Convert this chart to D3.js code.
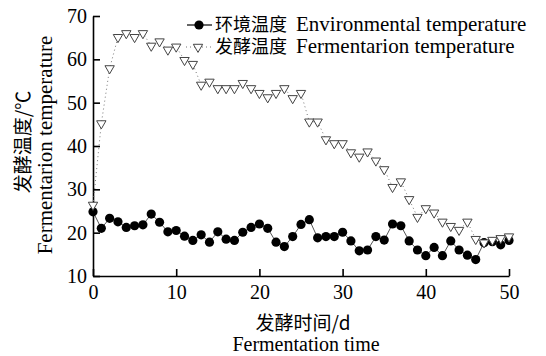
<!DOCTYPE html>
<html>
<head>
<meta charset="utf-8">
<script src="https://cdn.jsdelivr.net/npm/d3@7"></script>
<style>
  body { margin: 0; background: #fff; }
  svg { display: block; }
</style>
</head>
<body>
<div id="chart"></div>
<script>
// fermentation days
var days = d3.range(0, 51);

// environmental temperature (black dots)
var envTemp = [24.8, 21.0, 23.3, 22.5, 21.2, 21.6, 21.8, 24.3, 22.4, 20.2,
               20.5, 19.2, 18.2, 19.5, 17.8, 20.2, 18.5, 18.2, 20.1, 21.2,
               22.0, 21.0, 17.8, 16.8, 19.1, 21.9, 23.0, 18.8, 19.1, 19.1,
               20.1, 18.1, 15.8, 16.0, 19.1, 18.3, 22.0, 21.6, 18.1, 16.0,
               14.7, 16.6, 14.7, 18.1, 16.0, 14.8, 13.8, 17.7, 17.9, 17.2,
               18.2];

// fermentation temperature (open triangles)
var fermTemp = [26.4, 45.2, 57.9, 65.1, 66.0, 65.1, 66.0, 63.1, 64.1, 62.2,
                62.9, 59.8, 58.9, 54.1, 54.8, 53.3, 53.3, 53.3, 54.5, 53.3,
                52.2, 51.2, 52.2, 53.3, 51.0, 52.2, 45.6, 45.6, 41.5, 40.6,
                40.6, 38.5, 37.5, 38.7, 36.6, 34.6, 30.5, 31.8, 27.7, 23.6,
                25.6, 24.6, 22.5, 21.5, 20.6, 22.5, 18.5, 17.7, 18.3, 18.7,
                19.1];

var xTicks = [0, 10, 20, 30, 40, 50];
var yTicks = [10, 20, 30, 40, 50, 60, 70];

var legendLabels = [
  {zh: "环境温度", en: "Environmental temperature"},
  {zh: "发酵温度", en: "Fermentarion temperature"}
];

var SERIF = "Liberation Serif, DejaVu Serif, serif";
var CJK = "Noto Sans CJK SC, sans-serif";

// 0.size
var W = 546, H = 356;
var margin = {top: 16, right: 37, bottom: 80, left: 93};
var plotW = W - margin.left - margin.right;
var plotH = H - margin.top - margin.bottom;

var svg = d3.select("#chart").append("svg").attr("width", W).attr("height", H);
var g = svg.append("g").attr("transform", "translate(" + margin.left + "," + margin.top + ")");

var xScale = d3.scaleLinear().domain([0, 50]).range([0, plotW]);
var yScale = d3.scaleLinear().domain([10, 70]).range([plotH, 0]);

// 1.axes (ticks pointing inward)
var axisX = g.append("g")
  .attr("transform", "translate(0," + plotH + ")")
  .call(d3.axisBottom(xScale).tickValues(xTicks).tickSizeInner(-7).tickSizeOuter(0).tickPadding(9));
var axisY = g.append("g")
  .call(d3.axisLeft(yScale).tickValues(yTicks).tickSizeInner(-7).tickSizeOuter(0).tickPadding(6));

[axisX, axisY].forEach(function (a) {
  a.attr("font-family", null).attr("font-size", null);
  a.select(".domain").attr("stroke", "#000").attr("stroke-width", 1.6);
  a.selectAll(".tick line").attr("stroke", "#000").attr("stroke-width", 1.6);
  a.selectAll(".tick text")
    .attr("fill", "#000")
    .style("font-family", SERIF)
    .style("font-size", "20px");
});

// 2.environmental series
var lineSeries = d3.line()
  .x(function (d, i) { return xScale(days[i]); })
  .y(function (d) { return yScale(d); });

g.append("path")
  .datum(envTemp)
  .attr("fill", "none")
  .attr("stroke", "#555")
  .attr("stroke-width", 1)
  .attr("d", lineSeries);

g.append("g").selectAll("circle")
  .data(envTemp)
  .enter().append("circle")
  .attr("cx", function (d, i) { return xScale(days[i]); })
  .attr("cy", function (d) { return yScale(d); })
  .attr("r", 4.6)
  .attr("fill", "#000");

// 3.fermentation series
g.append("path")
  .datum(fermTemp)
  .attr("fill", "none")
  .attr("stroke", "#777")
  .attr("stroke-width", 1)
  .attr("stroke-dasharray", "1,3")
  .attr("d", lineSeries);

var tri = d3.symbol().type(d3.symbolTriangle).size(38);

g.append("g").selectAll("path")
  .data(fermTemp)
  .enter().append("path")
  .attr("d", tri)
  .attr("transform", function (d, i) {
    return "translate(" + xScale(days[i]) + "," + yScale(d) + ") rotate(180)";
  })
  .attr("fill", "#fff")
  .attr("stroke", "#444")
  .attr("stroke-width", 1);

// 4.legend
var legend = svg.append("g");
var rowY = [25, 47];

legend.append("line")
  .attr("x1", 187).attr("x2", 212).attr("y1", rowY[0]).attr("y2", rowY[0])
  .attr("stroke", "#000").attr("stroke-width", 1.2);
legend.append("circle")
  .attr("cx", 199).attr("cy", rowY[0]).attr("r", 4.6).attr("fill", "#000");

legend.append("line")
  .attr("x1", 186).attr("x2", 211).attr("y1", rowY[1]).attr("y2", rowY[1])
  .attr("stroke", "#777").attr("stroke-width", 1).attr("stroke-dasharray", "1,3");
legend.append("path")
  .attr("d", tri)
  .attr("transform", "translate(198," + rowY[1] + ") rotate(180)")
  .attr("fill", "#fff").attr("stroke", "#444");

legendLabels.forEach(function (l, i) {
  legend.append("text")
    .attr("x", 215)
    .attr("y", rowY[i] + 6)
    .style("font-family", CJK)
    .style("font-size", "18px")
    .attr("fill", "#000")
    .text(l.zh);
  legend.append("text")
    .attr("x", 296)
    .attr("y", rowY[i] + 6)
    .style("font-family", SERIF)
    .style("font-size", "21px")
    .attr("fill", "#000")
    .text(l.en);
});

// 5.axis titles
svg.append("text")
  .style("font-family", CJK)
  .style("font-size", "19px")
  .attr("text-anchor", "middle")
  .attr("transform", "translate(30,142) rotate(-90)")
  .text("发酵温度/℃");
svg.append("text")
  .style("font-family", SERIF)
  .style("font-size", "21px")
  .attr("text-anchor", "middle")
  .attr("transform", "translate(52,145) rotate(-90)")
  .text("Fermentarion temperature");

svg.append("text")
  .style("font-family", CJK)
  .style("font-size", "19px")
  .attr("text-anchor", "middle")
  .attr("x", 303).attr("y", 330)
  .text("发酵时间/d");
svg.append("text")
  .style("font-family", SERIF)
  .style("font-size", "20px")
  .attr("text-anchor", "middle")
  .attr("x", 306).attr("y", 351)
  .text("Fermentation time");
</script>
</body>
</html>
